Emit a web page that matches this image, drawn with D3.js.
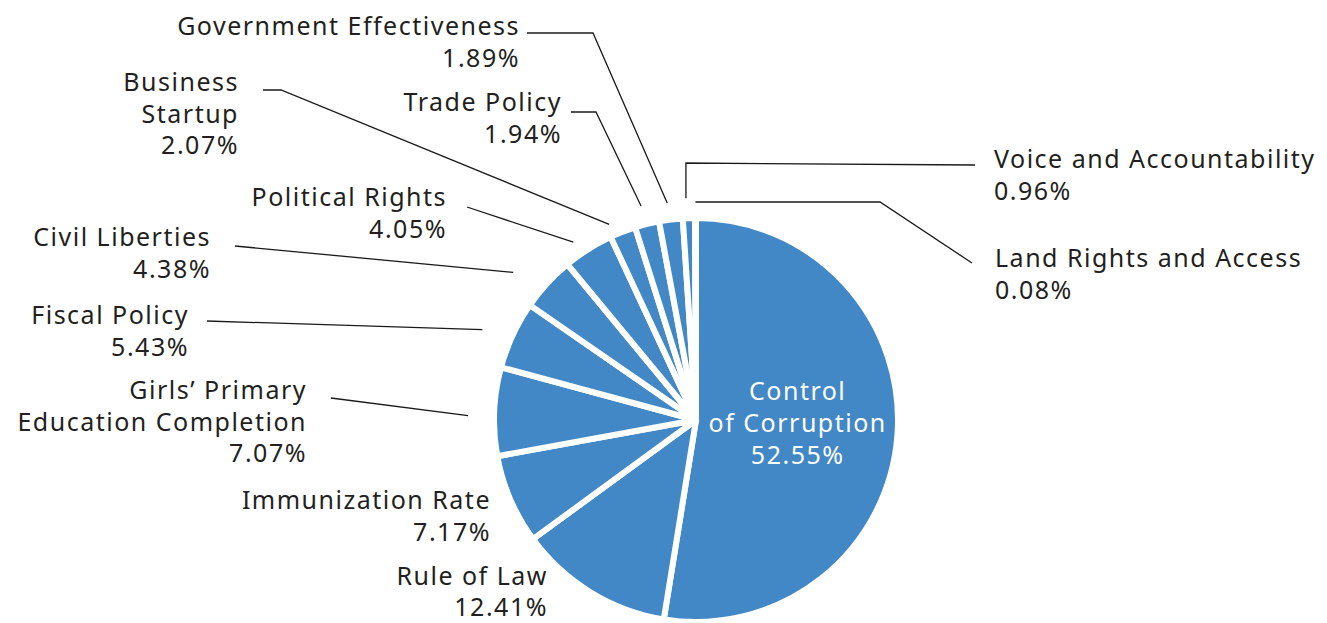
<!DOCTYPE html>
<html>
<head>
<meta charset="utf-8">
<script src="https://cdn.jsdelivr.net/npm/d3@7"></script>
<style>
  html, body { margin: 0; padding: 0; background: #ffffff; }
  svg { display: block; }
  text { font-family: "Noto Sans", "Open Sans", sans-serif; font-size: 25px; letter-spacing: 1.5px; }
</style>
</head>
<body>
<svg id="chart" width="1327" height="623"></svg>
<script>
// ---- data ----
const categories = [
  "Control of Corruption",
  "Rule of Law",
  "Immunization Rate",
  "Girls' Primary Education Completion",
  "Fiscal Policy",
  "Civil Liberties",
  "Political Rights",
  "Business Startup",
  "Trade Policy",
  "Government Effectiveness",
  "Voice and Accountability",
  "Land Rights and Access"
];
const shares = [52.55, 12.41, 7.17, 7.07, 5.43, 4.38, 4.05, 2.07, 1.94, 1.89, 0.96, 0.08];
const labelLines = [
  ["Control", "of Corruption"],
  ["Rule of Law"],
  ["Immunization Rate"],
  ["Girls\u2019 Primary", "Education Completion"],
  ["Fiscal Policy"],
  ["Civil Liberties"],
  ["Political Rights"],
  ["Business", "Startup"],
  ["Trade Policy"],
  ["Government Effectiveness"],
  ["Voice and Accountability"],
  ["Land Rights and Access"]
];

// ---- layout (positions / styles) ----
const W = 1327, H = 623;
const cx = 696, cy = 420, R = 202;
const sliceColor = "#4287c6";
const textColor = "#231f20";
const lineH = 31.5;
const labelLayout = [
  { inside: true },
  { x: 548, y: 585, anchor: "end", lh: 31 },
  { x: 491, y: 509, anchor: "end" },
  { x: 307, y: 399, anchor: "end", start: [331, 398], t: 0.45, r: 228 },
  { x: 189, y: 324, anchor: "end", start: [207, 321], t: 0.40, r: 232 },
  { x: 211, y: 246, anchor: "end", start: [235, 246], t: 0.27, r: 235 },
  { x: 447, y: 206, anchor: "end", start: [467, 207], t: 0.34, r: 216 },
  { x: 239, y: 91,  anchor: "end", start: [263, 90], elbow: [281, 90], t: 0.14, r: 214 },
  { x: 562, y: 111, anchor: "end", start: [571, 112], elbow: [596, 112], t: 0.45, r: 221 },
  { x: 520, y: 35,  anchor: "end", start: [527, 33], elbow: [593, 33], t: 0.44, r: 219 },
  { x: 994, y: 168, anchor: "start", start: [975, 165], elbow: [null, 163], t: 0.33, r: 222 },
  { x: 995, y: 267, anchor: "start", start: [972, 263], elbow: [880, null], t: 0.5, r: 218 }
];

const data = categories.map((c, i) => ({ name: c, value: shares[i], lines: labelLines[i], layout: labelLayout[i] }));

const svg = d3.select("#chart");
const g = svg.append("g").attr("transform", `translate(${cx},${cy})`);

const pie = d3.pie().value(d => d.value).sort(null).startAngle(0).endAngle(2 * Math.PI);
const arcs = pie(data);
const arc = d3.arc().innerRadius(0).outerRadius(R);

g.selectAll("path.slice")
  .data(arcs)
  .join("path")
  .attr("class", "slice")
  .attr("d", arc)
  .attr("fill", sliceColor)
  .attr("stroke", "#ffffff")
  .attr("stroke-width", 6)
  .attr("stroke-linejoin", "round");

const fmt = v => d3.format(".2f")(v) + "%";

const pointOnRay = (a, r) => [cx + r * Math.sin(a), cy - r * Math.cos(a)];
const lineGen = d3.line();
const leaders = arcs.filter(a => a.data.layout.start);
svg.selectAll("path.leader")
  .data(leaders)
  .join("path")
  .attr("class", "leader")
  .attr("fill", "none")
  .attr("stroke", "#1a1a1a")
  .attr("stroke-width", 1.3)
  .attr("d", a => {
    const L = a.data.layout;
    const ang = a.startAngle + (a.endAngle - a.startAngle) * L.t;
    const end = pointOnRay(ang, L.r);
    const pts = [L.start];
    if (L.elbow) pts.push([L.elbow[0] == null ? end[0] : L.elbow[0], L.elbow[1] == null ? end[1] : L.elbow[1]]);
    pts.push(end);
    return lineGen(pts);
  });

arcs.filter(a => !a.data.layout.inside).forEach(a => {
  const L = a.data.layout;
  const lh = L.lh || lineH;
  const t = svg.append("text")
    .attr("x", L.x).attr("y", L.y)
    .attr("text-anchor", L.anchor)
    .attr("fill", textColor);
  const allLines = a.data.lines.concat([fmt(a.data.value)]);
  allLines.forEach((ln, i) => {
    t.append("tspan").attr("x", L.x).attr("y", L.y + i * lh).text(ln);
  });
});

arcs.filter(a => a.data.layout.inside).forEach(a => {
  const c = arc.centroid(a);
  const x = cx + c[0] + 1, yMid = cy + c[1] + 4;
  const t = svg.append("text")
    .attr("text-anchor", "middle")
    .attr("fill", "#ffffff");
  const allLines = a.data.lines.concat([fmt(a.data.value)]);
  allLines.forEach((ln, i) => {
    t.append("tspan").attr("x", x).attr("y", yMid + (i - 1) * 32).text(ln);
  });
});
</script>
</body>
</html>
